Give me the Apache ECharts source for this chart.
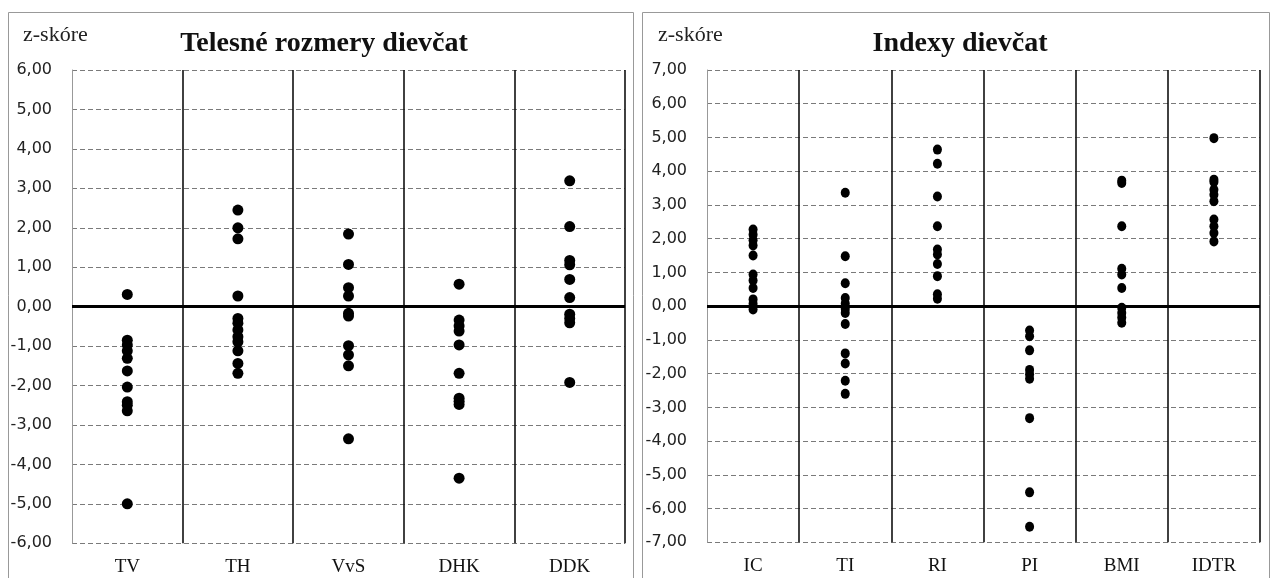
<!DOCTYPE html>
<html>
<head>
<meta charset="utf-8">
<script src="https://cdn.jsdelivr.net/npm/echarts@6/dist/echarts.min.js"></script>
<style>
  html, body { margin: 0; padding: 0; background: #fff; }
  #chart { width: 1272px; height: 578px; }
</style>
</head>
<body>
<div id="chart"></div>
<script>
// Body measurements (z-scores) per category
const bodyCategories = ['TV', 'TH', 'VvS', 'DHK', 'DDK'];
const tv  = [0.31, -0.85, -0.97, -1.12, -1.31, -1.63, -2.04, -2.41, -2.50, -2.64, -5.00];
const th  = [2.45, 2.00, 1.72, 0.27, -0.30, -0.42, -0.59, -0.76, -0.89, -1.12, -1.44, -1.69];
const vvs = [1.84, 1.07, 0.48, 0.27, -0.17, -0.24, -0.99, -1.22, -1.50, -3.35];
const dhk = [0.57, -0.34, -0.49, -0.62, -0.97, -1.69, -2.32, -2.40, -2.48, -4.35];
const ddk = [3.19, 2.03, 1.17, 1.06, 0.69, 0.23, -0.19, -0.30, -0.41, -1.92];

// Indices (z-scores) per category
const indexCategories = ['IC', 'TI', 'RI', 'PI', 'BMI', 'IDTR'];
const ic   = [2.27, 2.12, 1.95, 1.80, 1.50, 0.94, 0.76, 0.54, 0.20, 0.07, -0.10];
const ti   = [3.36, 1.48, 0.68, 0.24, 0.08, -0.08, -0.20, -0.53, -1.40, -1.70, -2.21, -2.60];
const ri   = [4.64, 4.22, 3.25, 2.37, 1.68, 1.53, 1.25, 0.89, 0.35, 0.22];
const pi   = [-0.72, -0.89, -1.31, -1.89, -2.02, -2.15, -3.32, -5.52, -6.54];
const bmi  = [3.72, 3.65, 2.37, 1.11, 0.94, 0.54, -0.05, -0.20, -0.34, -0.49];
const idtr = [4.98, 3.75, 3.68, 3.45, 3.30, 3.11, 2.57, 2.37, 2.17, 1.92];

const bodyValues = [tv, th, vvs, dhk, ddk];
const indexValues = [ic, ti, ri, pi, bmi, idtr];

function toPoints(categories, groups) {
  const pts = [];
  groups.forEach((vals, i) => vals.forEach(v => pts.push([categories[i], v])));
  return pts;
}

const fmt = v => v.toFixed(2).replace('.', ',');
const serif = '"Liberation Serif", "Times New Roman", serif';
const sans = '"DejaVu Sans", Verdana, sans-serif';

function xAxisFor(gridIndex, categories) {
  return {
    type: 'category', gridIndex, data: categories, boundaryGap: true,
    axisLine: { show: false }, axisTick: { show: false },
    axisLabel: { color: '#111', fontFamily: serif, fontSize: 19, margin: 14 },
    splitLine: { show: true, interval: (i) => i > 0, lineStyle: { color: '#111', width: 1.6, type: 'solid' } }
  };
}
function yAxisFor(gridIndex, lim) {
  return {
    type: 'value', gridIndex, min: -lim, max: lim, interval: 1,
    axisLine: { show: true, lineStyle: { color: '#999', width: 1 } },
    axisTick: { show: false },
    axisLabel: { color: '#222', fontFamily: sans, fontSize: 16, margin: 20, formatter: fmt },
    splitLine: { show: true, lineStyle: { color: '#7a7a7a', width: 1, type: [5, 3] } }
  };
}
const zeroLine = {
  silent: true, symbol: 'none', animation: false,
  label: { show: false },
  lineStyle: { color: '#000', width: 3, type: 'solid' },
  data: [{ yAxis: 0 }]
};
const titleFont = { fontFamily: serif, fontWeight: 'bold', fontSize: 28, color: '#111' };
const unitFont = { fontFamily: serif, fontWeight: 'normal', fontSize: 22, color: '#222' };

const chart = echarts.init(document.getElementById('chart'), null, { renderer: 'canvas' });
chart.setOption({
  animation: false,
  backgroundColor: '#fff',
  title: [
    { text: 'Telesné rozmery dievčat', left: 324, top: 30, padding: 0, textAlign: 'center', textStyle: titleFont },
    { text: 'Indexy dievčat', left: 960, top: 30, padding: 0, textAlign: 'center', textStyle: titleFont },
    { text: 'z-skóre', left: 23, top: 24, padding: 0, textStyle: unitFont },
    { text: 'z-skóre', left: 658, top: 24, padding: 0, textStyle: unitFont }
  ],
  graphic: [
    { type: 'rect', shape: { x: 8.5, y: 12.5, width: 625, height: 580 }, style: { fill: 'none', stroke: '#999', lineWidth: 1 }, silent: true },
    { type: 'rect', shape: { x: 642.5, y: 12.5, width: 627, height: 580 }, style: { fill: 'none', stroke: '#999', lineWidth: 1 }, silent: true }
  ],
  grid: [
    { left: 72, top: 70, width: 553, height: 473.3 },
    { left: 707, top: 70, width: 553, height: 472.3 }
  ],
  xAxis: [xAxisFor(0, bodyCategories), xAxisFor(1, indexCategories)],
  yAxis: [yAxisFor(0, 6), yAxisFor(1, 7)],
  series: [
    { type: 'scatter', xAxisIndex: 0, yAxisIndex: 0, symbol: 'circle', symbolSize: 11,
      itemStyle: { color: '#000', opacity: 1 }, data: toPoints(bodyCategories, bodyValues), markLine: zeroLine, z: 5 },
    { type: 'scatter', xAxisIndex: 1, yAxisIndex: 1, symbol: 'circle', symbolSize: [9, 10],
      itemStyle: { color: '#000', opacity: 1 }, data: toPoints(indexCategories, indexValues), markLine: zeroLine, z: 5 }
  ]
});
</script>
</body>
</html>
